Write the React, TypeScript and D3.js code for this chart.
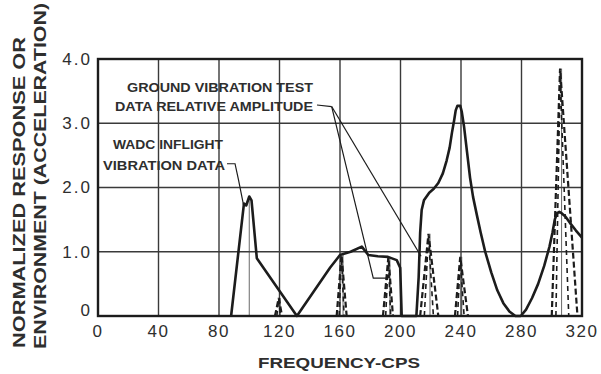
import * as d3 from "d3";

// WADC inflight vibration data (solid curve)
const wadcFreq = [
  88, 96.5, 98, 100, 101.5, 105, 131.5, 153.4, 160, 167, 174.4, 178.7, 185, 191.7,
  197.5, 199.8, 200.8, 210.5, 212, 213, 214, 215.5, 219, 222, 225, 228, 230.5,
  232.5, 234, 235.5, 236.5, 237.6, 239.5, 240.5, 242, 244, 246, 248, 250.5, 253,
  256, 260, 264, 268, 272, 276, 279.5, 283, 287, 291, 295, 298.5, 300.5, 302,
  303.5, 305, 306.5, 309, 312, 316, 320,
];
const wadcValue = [
  0, 1.75, 1.72, 1.86, 1.8, 0.9, 0, 0.75, 0.95, 1.0, 1.08, 0.95, 0.93, 0.92,
  0.87, 0.75, 0, 0, 0.6, 1.3, 1.65, 1.8, 1.92, 1.98, 2.07, 2.22, 2.42,
  2.62, 2.85, 3.05, 3.2, 3.27, 3.27, 3.18, 2.95, 2.55, 2.15, 1.85, 1.57, 1.3,
  1.0, 0.68, 0.4, 0.2, 0.07, 0, 0, 0.1, 0.28, 0.5, 0.78, 1.08, 1.3, 1.5,
  1.6, 1.62, 1.6, 1.55, 1.45, 1.33, 1.22,
];

// ground vibration test relative amplitude (dashed spikes)
const spikeFreq = [119.5, 161, 192, 218.5, 239.5, 305.5];
const spikeLow = [117, 157.8, 188.4, 213, 236, 300];
const spikeHigh = [121.7, 164.4, 195, 225, 244.6, 317];
const spikePeak = [0.28, 0.95, 0.92, 1.28, 0.92, 3.85];

const xTicks = [0, 40, 80, 120, 160, 200, 240, 280, 320];
const yTicks = [0, 1, 2, 3, 4];
const yTickLabels = ["0", "1.0", "2.0", "3.0", "4.0"];

const W = 601;
const H = 374;

export default function App() {
  const x = d3.scaleLinear().domain([0, 320]).range([98, 582]);
  const y = d3.scaleLinear().domain([0, 4]).range([316, 59]);

  const wadc = wadcFreq.map((f, i) => [f, wadcValue[i]] as [number, number]);
  const line = d3
    .line<[number, number]>()
    .x((d) => x(d[0]))
    .y((d) => y(d[1]));

  const ink = "#1c1c1c";
  const txt = "#2e2e2e";

  // leader lines (data coords)
  const gvtLeaderA: [number, number][] = [
    [154.5, 3.26],
    [182, 0.59],
    [190.9, 0.59],
  ];
  const gvtLeaderB: [number, number][] = [
    [154.5, 3.26],
    [213.6, 0.93],
  ];
  const wadcLeader: [number, number][] = [
    [85.3, 2.37],
    [90.6, 2.37],
    [92.9, 2.12],
    [96.2, 1.73],
  ];

  return (
    <svg
      width={W}
      height={H}
      style={{ position: "absolute", left: 0, top: 0, background: "#fff" }}
      fontFamily="'Liberation Sans', Arial, sans-serif"
    >
      <rect width={W} height={H} fill="#fff" />

      {/* grid */}
      {xTicks.slice(1, -1).map((t) => (
        <line key={"gx" + t} x1={x(t)} x2={x(t)} y1={y(0)} y2={y(4)} stroke="#3a3a3a" strokeWidth={1.4} />
      ))}
      {yTicks.slice(1, -1).map((t) => (
        <line key={"gy" + t} x1={x(0)} x2={x(320)} y1={y(t)} y2={y(t)} stroke="#3a3a3a" strokeWidth={1.4} />
      ))}

      {/* spike center lines */}
      {spikeFreq.map((f, i) => (
        <line key={"c" + i} x1={x(f + 1)} x2={x(f + 1)} y1={y(0)} y2={y(spikePeak[i])} stroke="#444" strokeWidth={0.8} />
      ))}
      <line x1={x(100)} x2={x(100)} y1={y(0)} y2={y(1.86)} stroke="#444" strokeWidth={0.8} />

      {/* dashed spikes */}
      {spikeFreq.map((f, i) => (
        <path
          key={"s" + i}
          d={line([
            [spikeLow[i], 0],
            [f, spikePeak[i]],
            [spikeHigh[i], 0],
          ])!}
          fill="none"
          stroke={ink}
          strokeWidth={2.2}
          strokeDasharray="6 3"
        />
      ))}
      {spikeFreq.map((f, i) => (
        <path
          key={"si" + i}
          d={line([
            [(spikeLow[i] + f) / 2, 0],
            [f, spikePeak[i] * 0.97],
            [(spikeHigh[i] + f) / 2, 0],
          ])!}
          fill="none"
          stroke={ink}
          strokeWidth={1.6}
          strokeDasharray="5 4"
        />
      ))}

      {/* solid curve */}
      <path d={line(wadc)!} fill="none" stroke={ink} strokeWidth={2.6} strokeLinejoin="round" />

      {/* frame */}
      <rect x={x(0)} y={y(4)} width={x(320) - x(0)} height={y(0) - y(4)} fill="none" stroke={ink} strokeWidth={2.4} />

      {/* leader lines */}
      <path d={line(gvtLeaderA)!} fill="none" stroke={ink} strokeWidth={1.2} />
      <path d={line(gvtLeaderB)!} fill="none" stroke={ink} strokeWidth={1.2} />
      <path d={line(wadcLeader)!} fill="none" stroke={ink} strokeWidth={1.2} />
      <line x1={317} x2={x(154.5)} y1={105} y2={y(3.26)} stroke={ink} strokeWidth={1.2} />

      {/* annotations */}
      <g fill={txt} fontWeight="bold" fontSize={12.5}>
        <text x={127} y={92} textLength={186} lengthAdjust="spacingAndGlyphs">GROUND VIBRATION TEST</text>
        <text x={115} y={110.5} textLength={198} lengthAdjust="spacingAndGlyphs">DATA RELATIVE AMPLITUDE</text>
        <text x={113} y={149} textLength={110} lengthAdjust="spacingAndGlyphs">WADC INFLIGHT</text>
        <text x={103} y={170} textLength={122} lengthAdjust="spacingAndGlyphs">VIBRATION DATA</text>
      </g>

      {/* tick labels */}
      <g fill={txt} fontSize={17}>
        {xTicks.map((t) => (
          <text key={"xt" + t} x={x(t)} y={337} textAnchor="middle" letterSpacing={1.5}>
            {t}
          </text>
        ))}
        {yTicks.map((t, i) => (
          <text key={"yt" + t} x={92} y={y(t) - (t === 0 ? 6 : 0)} dy="0.35em" textAnchor="end" letterSpacing={2}>
            {yTickLabels[i]}
          </text>
        ))}
      </g>

      {/* axis titles */}
      <text x={258} y={368} fill={txt} fontWeight="bold" fontSize={15} textLength={162} lengthAdjust="spacingAndGlyphs">
        FREQUENCY-CPS
      </text>
      <g fill={txt} fontWeight="bold" fontSize={17}>
        <text transform="translate(25,192.5) rotate(-90)" textAnchor="middle" textLength={311} lengthAdjust="spacingAndGlyphs">
          NORMALIZED RESPONSE OR
        </text>
        <text transform="translate(45.5,176) rotate(-90)" textAnchor="middle" textLength={346} lengthAdjust="spacingAndGlyphs">
          ENVIRONMENT (ACCELERATION)
        </text>
      </g>
    </svg>
  );
}
